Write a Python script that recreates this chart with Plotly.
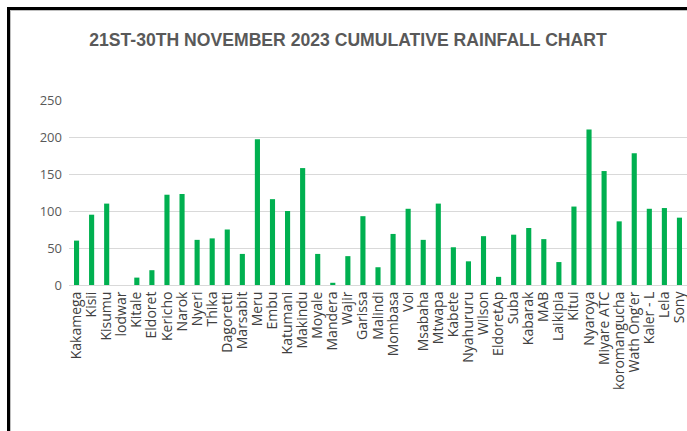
import plotly.graph_objects as go

stations = ["Kakamega", "Kisii", "Kisumu", "lodwar", "Kitale", "Eldoret", "Kericho", "Narok",
            "Nyeri", "Thika", "Dagoretti", "Marsabit", "Meru", "Embu", "Katumani", "Makindu",
            "Moyale", "Mandera", "Wajir", "Garissa", "Malindi", "Mombasa", "Voi", "Msabaha",
            "Mtwapa", "Kabete", "Nyahururu", "Wilson", "EldoretAp", "Suba", "Kabarak", "MAB",
            "Laikipia", "Kitui", "Nyaroya", "Miyare ATC", "koromangucha", "Wath Ong\u2019er",
            "Kaler - L", "Lela", "Sony"]
rainfall = [60, 95, 110, 0, 10, 20, 122, 123,
            61, 63, 75, 42, 197, 116, 100, 158,
            42, 3, 39, 93, 24, 69, 103, 61,
            110, 51, 32, 66, 11, 68, 77, 62,
            31, 106, 210, 154, 86, 178,
            103, 104, 91]
y_ticks = [0, 50, 100, 150, 200, 250]

W, H = 687, 431
L, R, T, B = 69, 0, 100, 146
pw, ph = W - L - R, H - T - B

def px_x(p):
    return (p - L) / pw

def px_y(p):
    return (H - B - p) / ph

fig = go.Figure(go.Bar(
    x=stations, y=rainfall,
    marker=dict(color="#00B050", line=dict(width=0)),
))

fig.update_layout(
    width=W, height=H,
    margin=dict(l=L, r=R, t=T, b=B),
    paper_bgcolor="white", plot_bgcolor="white",
    bargap=0.66,
    showlegend=False,
    title=dict(
        text="21ST-30TH NOVEMBER 2023 CUMULATIVE RAINFALL CHART",
        x=348 / W, xref="container", xanchor="center",
        y=1 - 40 / H, yref="container", yanchor="middle",
        font=dict(family="Liberation Sans Narrow, Arial Narrow, Liberation Sans", size=17.6,
                  color="#595959", weight="bold"),
    ),
    xaxis=dict(
        type="category",
        tickmode="array", tickvals=stations, ticktext=stations,
        tickangle=-90,
        tickfont=dict(family="Open Sans", size=14, color="#404040"),
        showgrid=False,
        showline=True, linecolor="#d9d9d9", linewidth=1,
        ticks="",
        fixedrange=True,
    ),
    yaxis=dict(
        range=[0, 250],
        tickvals=y_ticks,
        tickfont=dict(family="Open Sans", size=13, color="#595959"),
        showgrid=True, gridcolor="#d9d9d9", gridwidth=1,
        zeroline=False,
        showline=False,
        ticks="",
        ticklabelstandoff=6,
    ),
    shapes=[
        dict(type="line", xref="paper", yref="paper",
             x0=px_x(8), x1=px_x(700), y0=px_y(8.5), y1=px_y(8.5),
             line=dict(color="black", width=3)),
        dict(type="line", xref="paper", yref="paper",
             x0=px_x(8.5), x1=px_x(8.5), y0=px_y(7), y1=px_y(440),
             line=dict(color="black", width=3)),
        dict(type="line", xref="paper", yref="paper",
             x0=px_x(10), x1=px_x(700), y0=px_y(10.5), y1=px_y(10.5),
             line=dict(color="#bfbfbf", width=1)),
        dict(type="line", xref="paper", yref="paper",
             x0=px_x(10.5), x1=px_x(10.5), y0=px_y(10), y1=px_y(440),
             line=dict(color="#bfbfbf", width=1)),
    ],
)

fig.write_html("out.html")
